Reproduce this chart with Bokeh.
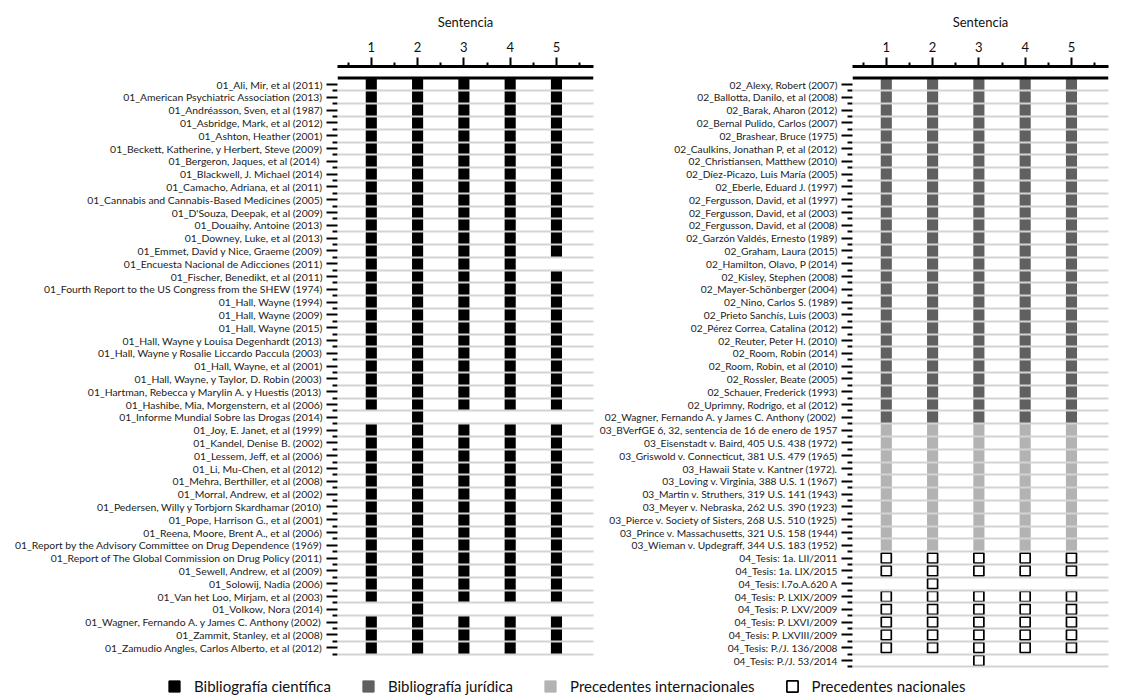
import math
from bokeh.plotting import figure
from bokeh.models import Range1d, FixedTicker, Span, Legend, LegendItem, ColumnDataSource
from bokeh.layouts import row, column
from bokeh.embed import file_html
from bokeh.resources import INLINE

# ---------------- data ----------------
sentencias = [1, 2, 3, 4, 5]

left_refs = [
    "01_Ali, Mir, et al (2011)",
    "01_American Psychiatric Association (2013)",
    "01_Andréasson, Sven, et al (1987)",
    "01_Asbridge, Mark, et al (2012)",
    "01_Ashton, Heather (2001)",
    "01_Beckett, Katherine, y Herbert, Steve (2009)",
    "01_Bergeron, Jaques,  et al (2014)",
    "01_Blackwell, J. Michael (2014)",
    "01_Camacho, Adriana, et al (2011)",
    "01_Cannabis and Cannabis-Based Medicines (2005)",
    "01_D'Souza, Deepak, et al (2009)",
    "01_Douaihy, Antoine (2013)",
    "01_Downey, Luke, et al (2013)",
    "01_Emmet, David y Nice, Graeme (2009)",
    "01_Encuesta Nacional de Adicciones (2011)",
    "01_Fischer, Benedikt, et al (2011)",
    "01_Fourth Report to the US Congress from the SHEW (1974)",
    "01_Hall, Wayne (1994)",
    "01_Hall, Wayne (2009)",
    "01_Hall, Wayne (2015)",
    "01_Hall, Wayne y Louisa Degenhardt (2013)",
    "01_Hall, Wayne y Rosalie Liccardo Paccula (2003)",
    "01_Hall, Wayne, et al (2001)",
    "01_Hall, Wayne, y Taylor, D. Robin (2003)",
    "01_Hartman, Rebecca y Marylin A. y Huestis (2013)",
    "01_Hashibe, Mia, Morgenstern, et al (2006)",
    "01_Informe Mundial Sobre las Drogas (2014)",
    "01_Joy, E. Janet, et al (1999)",
    "01_Kandel, Denise B. (2002)",
    "01_Lessem, Jeff, et al (2006)",
    "01_Li, Mu-Chen, et al (2012)",
    "01_Mehra, Berthiller, et al (2008)",
    "01_Morral, Andrew, et al (2002)",
    "01_Pedersen, Willy y Torbjorn Skardhamar (2010)",
    "01_Pope, Harrison G., et al (2001)",
    "01_Reena, Moore, Brent A., et al (2006)",
    "01_Report by the Advisory Committee on Drug Dependence (1969)",
    "01_Report of The Global Commission on Drug Policy (2011)",
    "01_Sewell, Andrew, et al (2009)",
    "01_Solowij, Nadia (2006)",
    "01_Van het Loo, Mirjam, et al (2003)",
    "01_Volkow, Nora (2014)",
    "01_Wagner, Fernando A. y James C. Anthony (2002)",
    "01_Zammit, Stanley, et al (2008)",
    "01_Zamudio Angles, Carlos Alberto, et al (2012)",
]
left_cites = [
    [1, 2, 3, 4, 5], [1, 2, 3, 4, 5], [1, 2, 3, 4, 5], [1, 2, 3, 4, 5], [1, 2, 3, 4, 5],
    [1, 2, 3, 4, 5], [1, 2, 3, 4, 5], [1, 2, 3, 4, 5], [1, 2, 3, 4, 5], [1, 2, 3, 4, 5],
    [1, 2, 3, 4, 5], [1, 2, 3, 4, 5], [1, 2, 3, 4, 5], [1, 2, 3, 4, 5], [1, 2, 3, 4],
    [1, 2, 3, 4, 5], [1, 2, 3, 4, 5], [1, 2, 3, 4, 5], [1, 2, 3, 4, 5], [1, 2, 3, 4, 5],
    [1, 2, 3, 4, 5], [1, 2, 3, 4, 5], [1, 2, 3, 4, 5], [1, 2, 3, 4, 5], [1, 2, 3, 4, 5],
    [1, 2, 3, 4, 5], [2], [1, 2, 3, 4, 5], [1, 2, 3, 4, 5], [1, 2, 3, 4, 5],
    [1, 2, 3, 4, 5], [1, 2, 3, 4, 5], [1, 2, 3, 4, 5], [1, 2, 3, 4, 5], [1, 2, 3, 4, 5],
    [1, 2, 3, 4, 5], [1, 2, 3, 4, 5], [1, 2, 3, 4, 5], [1, 2, 3, 4, 5], [1, 2, 3, 4, 5],
    [1, 2, 3, 4, 5], [2], [1, 2, 3, 4, 5], [1, 2, 3, 4, 5], [1, 2, 3, 4, 5],
]

right_refs = [
    "02_Alexy, Robert (2007)",
    "02_Ballotta, Danilo, et al (2008)",
    "02_Barak, Aharon (2012)",
    "02_Bernal Pulido, Carlos (2007)",
    "02_Brashear, Bruce (1975)",
    "02_Caulkins, Jonathan P, et al (2012)",
    "02_Christiansen, Matthew (2010)",
    "02_Díez-Picazo, Luis María (2005)",
    "02_Eberle, Eduard J. (1997)",
    "02_Fergusson, David, et al (1997)",
    "02_Fergusson, David, et al (2003)",
    "02_Fergusson, David, et al (2008)",
    "02_Garzón Valdés, Ernesto (1989)",
    "02_Graham, Laura (2015)",
    "02_Hamilton, Olavo, P (2014)",
    "02_Kisley, Stephen (2008)",
    "02_Mayer-Schönberger (2004)",
    "02_Nino, Carlos S. (1989)",
    "02_Prieto Sanchís, Luis (2003)",
    "02_Pérez Correa, Catalina (2012)",
    "02_Reuter, Peter H. (2010)",
    "02_Room, Robin (2014)",
    "02_Room, Robin, et al (2010)",
    "02_Rossler, Beate (2005)",
    "02_Schauer, Frederick (1993)",
    "02_Uprimny, Rodrigo, et al (2012)",
    "02_Wagner, Fernando A. y James C. Anthony (2002)",
    "03_BVerfGE 6, 32, sentencia de 16 de enero de 1957",
    "03_Eisenstadt v. Baird, 405 U.S. 438 (1972)",
    "03_Griswold v. Connecticut, 381 U.S. 479 (1965)",
    "03_Hawaii State v. Kantner (1972).",
    "03_Loving v. Virginia, 388 U.S. 1 (1967)",
    "03_Martin v. Struthers, 319 U.S. 141 (1943)",
    "03_Meyer v. Nebraska, 262 U.S. 390 (1923)",
    "03_Pierce v. Society of Sisters, 268 U.S. 510 (1925)",
    "03_Prince v. Massachusetts, 321 U.S. 158 (1944)",
    "03_Wieman v. Updegraff, 344 U.S. 183 (1952)",
    "04_Tesis: 1a. LII/2011",
    "04_Tesis: 1a. LIX/2015",
    "04_Tesis: I.7o.A.620 A",
    "04_Tesis: P. LXIX/2009",
    "04_Tesis: P. LXV/2009",
    "04_Tesis: P. LXVI/2009",
    "04_Tesis: P. LXVIII/2009",
    "04_Tesis: P./J. 136/2008",
    "04_Tesis: P./J. 53/2014",
]
right_cites = [
    [1, 2, 3, 4, 5], [1, 2, 3, 4, 5], [1, 2, 3, 4, 5], [1, 2, 3, 4, 5], [1, 2, 3, 4, 5],
    [1, 2, 3, 4, 5], [1, 2, 3, 4, 5], [1, 2, 3, 4, 5], [1, 2, 3, 4, 5], [1, 2, 3, 4, 5],
    [1, 2, 3, 4, 5], [1, 2, 3, 4, 5], [1, 2, 3, 4, 5], [1, 2, 3, 4, 5], [1, 2, 3, 4, 5],
    [1, 2, 3, 4, 5], [1, 2, 3, 4, 5], [1, 2, 3, 4, 5], [1, 2, 3, 4, 5], [1, 2, 3, 4, 5],
    [1, 2, 3, 4, 5], [1, 2, 3, 4, 5], [1, 2, 3, 4, 5], [1, 2, 3, 4, 5], [1, 2, 3, 4, 5],
    [1, 2, 3, 4, 5], [1, 2, 3, 4, 5],
    [1, 2, 3, 4, 5], [1, 2, 3, 4, 5], [1, 2, 3, 4, 5], [1, 2, 3, 4, 5], [1, 2, 3, 4, 5],
    [1, 2, 3, 4, 5], [1, 2, 3, 4, 5], [1, 2, 3, 4, 5], [1, 2, 3, 4, 5], [1, 2, 3, 4, 5],
    [1, 2, 3, 4, 5], [1, 2, 3, 4, 5], [2], [1, 2, 3, 4, 5], [1, 2, 3, 4, 5],
    [1, 2, 3, 4, 5], [1, 2, 3, 4, 5], [1, 2, 3, 4, 5], [3],
]

categories = ["Bibliografía científica", "Bibliografía jurídica",
              "Precedentes internacionales", "Precedentes nacionales"]
prefix_category = {"01": categories[0], "02": categories[1],
                   "03": categories[2], "04": categories[3]}

# ---------------- style ----------------
FONT = "Lato"
FILL = {categories[0]: "#000000", categories[1]: "#606060",
        categories[2]: "#b3b3b3", categories[3]: "#ffffff"}
GRID_COLOR = "#d3d3d3"
ROW_PX = 12.8
FRAME_H = 604
TOP_BORDER = 66
FIG_H = TOP_BORDER + FRAME_H
Y_TOP = -0.5 - 11.6 / ROW_PX
Y_BOTTOM = Y_TOP + FRAME_H / ROW_PX
X_START, X_END = 0.27, 5.8


def make_panel(refs, cites, width, border_left, border_right, label_size):
    n = len(refs)
    xs, ys, cats = [], [], []
    for i, (ref, cs) in enumerate(zip(refs, cites)):
        for c in cs:
            xs.append(c)
            ys.append(i)
            cats.append(prefix_category[ref[:2]])

    p = figure(width=width, height=FIG_H, x_range=Range1d(X_START, X_END),
               y_range=Range1d(Y_BOTTOM, Y_TOP), x_axis_location="above",
               output_backend="svg", toolbar_location=None,
               min_border_left=border_left, min_border_right=border_right,
               min_border_top=TOP_BORDER, min_border_bottom=0)
    p.outline_line_color = None
    p.background_fill_color = "white"
    p.border_fill_color = "white"

    for cat in categories:
        idx = [k for k, c in enumerate(cats) if c == cat]
        if not idx:
            continue
        src = ColumnDataSource(dict(x=[xs[k] for k in idx], y=[ys[k] for k in idx]))
        if cat == categories[3]:
            p.scatter("x", "y", source=src, marker="square", size=10,
                      fill_color="white", line_color="black", line_width=1.7)
        else:
            p.rect("x", "y", source=src, width=0.24, height=1.0,
                   fill_color=FILL[cat], line_color=None)

    # row separators
    p.xgrid.visible = False
    p.ygrid.ticker = FixedTicker(ticks=[i + 0.5 for i in range(n)])
    p.ygrid.grid_line_color = GRID_COLOR
    p.ygrid.grid_line_width = 2
    p.ygrid.level = "annotation"
    p.add_layout(Span(location=-0.5, dimension="width", line_color="black", line_width=3))

    # top axis
    xa = p.xaxis[0]
    xa.ticker = FixedTicker(ticks=sentencias,
                            minor_ticks=[s - 0.5 for s in sentencias] + [sentencias[-1] + 0.5])
    xa.axis_label = "Sentencia"
    xa.axis_label_text_font = FONT
    xa.axis_label_text_font_size = "13px"
    xa.axis_label_text_font_style = "normal"
    xa.axis_label_text_color = "#111111"
    xa.axis_label_standoff = 9
    xa.major_label_text_font = FONT
    xa.major_label_text_font_size = "13px"
    xa.major_label_text_color = "#111111"
    xa.major_label_standoff = 6
    xa.axis_line_width = 3
    xa.axis_line_color = "black"
    xa.major_tick_out = 9
    xa.major_tick_in = 0
    xa.minor_tick_out = 4
    xa.minor_tick_in = 0
    xa.major_tick_line_width = 2
    xa.minor_tick_line_width = 2

    # left axis
    ya = p.yaxis[0]
    ya.ticker = FixedTicker(ticks=list(range(n)), minor_ticks=[i + 0.5 for i in range(n)])
    ya.major_label_overrides = {i: r for i, r in enumerate(refs)}
    ya.axis_line_color = None
    ya.major_tick_out = 11
    ya.major_tick_in = 0
    ya.minor_tick_out = 5
    ya.minor_tick_in = 0
    ya.major_tick_line_width = 2
    ya.minor_tick_line_width = 2
    ya.major_label_standoff = 4
    ya.major_label_text_font = FONT
    ya.major_label_text_font_size = label_size
    ya.major_label_text_color = "#222222"
    return p


p1 = make_panel(left_refs, left_cites, 596, 337, 3, "10.4px")
p2 = make_panel(right_refs, right_cites, 523, 256, 11, "10.2px")

# ---------------- legend ----------------
pl = figure(width=1119, height=26, x_range=Range1d(0, 1), y_range=Range1d(0, 1),
            output_backend="svg", toolbar_location=None,
            min_border_left=0, min_border_right=0, min_border_top=0, min_border_bottom=0)
pl.axis.visible = False
pl.grid.visible = False
pl.outline_line_color = None
items = []
for cat in categories:
    src = ColumnDataSource(dict(x=[math.nan], y=[math.nan]))
    if cat == categories[3]:
        r = pl.rect("x", "y", source=src, width=1, height=1, fill_color="white",
                    line_color="black", line_width=1.7)
    else:
        r = pl.rect("x", "y", source=src, width=1, height=1, fill_color=FILL[cat],
                    line_color=FILL[cat])
    items.append(LegendItem(label=cat, renderers=[r]))
legend = Legend(items=items, orientation="horizontal", location=(167, 1),
                glyph_width=14, glyph_height=14, label_standoff=13, spacing=30,
                padding=0, margin=0, border_line_color=None, background_fill_alpha=0,
                label_text_font=FONT, label_text_font_size="15px",
                label_text_color="#111111")
pl.add_layout(legend)

layout = column(row(p1, p2), pl)
open("out.html", "w").write(file_html(layout, INLINE))
